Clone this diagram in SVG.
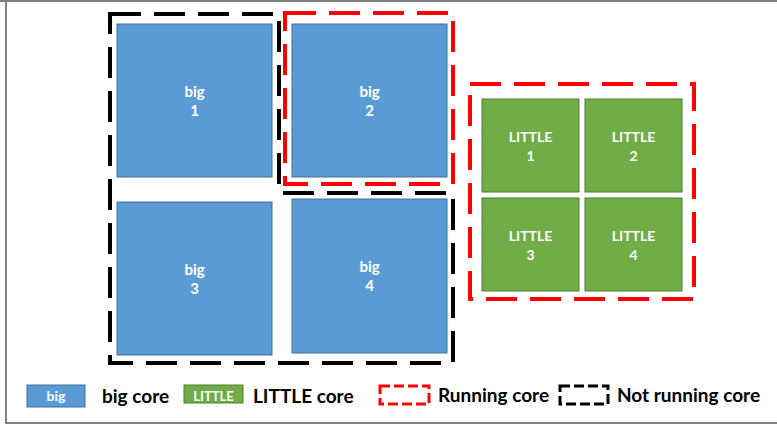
<svg xmlns="http://www.w3.org/2000/svg" width="777" height="428" viewBox="0 0 777 428">
<style>
.big{fill:#5B9BD5;stroke:#41719C;stroke-width:1}
.little{fill:#70AD47;stroke:#507E32;stroke-width:1}
.lbl{font-family:Lato,"Open Sans","Liberation Sans",sans-serif;font-weight:bold;fill:#fff;text-anchor:middle;font-size:15px}
.llbl{font-family:Lato,"Open Sans","Liberation Sans",sans-serif;font-weight:bold;fill:#fff;text-anchor:middle;font-size:14px}
.leg{font-family:Lato,"Open Sans","Liberation Sans",sans-serif;font-weight:bold;fill:#000;font-size:19px}
.run{fill:none;stroke:#FF0000;stroke-width:4;stroke-dasharray:31 13}
.notrun{fill:none;stroke:#000;stroke-width:4;stroke-dasharray:31 13}
.runs{fill:none;stroke:#FF0000;stroke-width:3;stroke-dasharray:10 4}
.notruns{fill:none;stroke:#000;stroke-width:3;stroke-dasharray:10 4}
</style>
<rect x="0" y="0" width="777" height="428" fill="#fff"/>
<rect x="6" y="1" width="776" height="422" fill="none" stroke="#595959" stroke-width="1.5"/>
<line x1="0" y1="1" x2="777" y2="1" stroke="#808080" stroke-width="2"/>

<g id="big1"><rect class="big" x="117" y="24" width="155" height="153"/><text class="lbl" x="194.5" y="97">big</text><text class="lbl" x="194.5" y="116">1</text></g>
<g id="big2"><rect class="big" x="292" y="24" width="155" height="153"/><text class="lbl" x="369.5" y="97">big</text><text class="lbl" x="369.5" y="116">2</text></g>
<g id="big3"><rect class="big" x="117" y="202" width="155" height="153"/><text class="lbl" x="194.5" y="275">big</text><text class="lbl" x="194.5" y="294">3</text></g>
<g id="big4"><rect class="big" x="292" y="199" width="155" height="154"/><text class="lbl" x="369.5" y="272">big</text><text class="lbl" x="369.5" y="291">4</text></g>

<g id="little1"><rect class="little" x="482" y="99" width="97" height="93"/><text class="llbl" x="530.5" y="142">LITTLE</text><text class="llbl" x="530.5" y="161">1</text></g>
<g id="little2"><rect class="little" x="585" y="99" width="97" height="93"/><text class="llbl" x="633.5" y="142">LITTLE</text><text class="llbl" x="633.5" y="161">2</text></g>
<g id="little3"><rect class="little" x="482" y="198" width="97" height="93"/><text class="llbl" x="530.5" y="241">LITTLE</text><text class="llbl" x="530.5" y="260">3</text></g>
<g id="little4"><rect class="little" x="585" y="198" width="97" height="93"/><text class="llbl" x="633.5" y="241">LITTLE</text><text class="llbl" x="633.5" y="260">4</text></g>

<g id="status-frames">
<polygon class="notrun" points="110,14 279,14 279,193 453,193 453,363 110,363"/>
<rect class="run" x="285" y="13" width="168" height="171"/>
<rect class="run" x="470" y="84" width="224" height="215"/>
</g>

<g id="legend">
<rect class="big" x="27" y="385" width="58" height="22"/>
<text class="llbl" x="56" y="401">big</text>
<text class="leg" x="102" y="403">big core</text>
<rect class="little" x="184" y="385" width="59" height="18"/>
<text class="llbl" x="213.5" y="401" style="font-size:13px">LITTLE</text>
<text class="leg" x="253" y="403">LITTLE core</text>
<rect class="runs" x="380" y="386" width="49" height="18"/>
<text class="leg" x="438" y="402">Running core</text>
<rect class="notruns" x="560" y="386" width="48" height="18"/>
<text class="leg" x="617" y="402">Not running core</text>
</g>
</svg>
